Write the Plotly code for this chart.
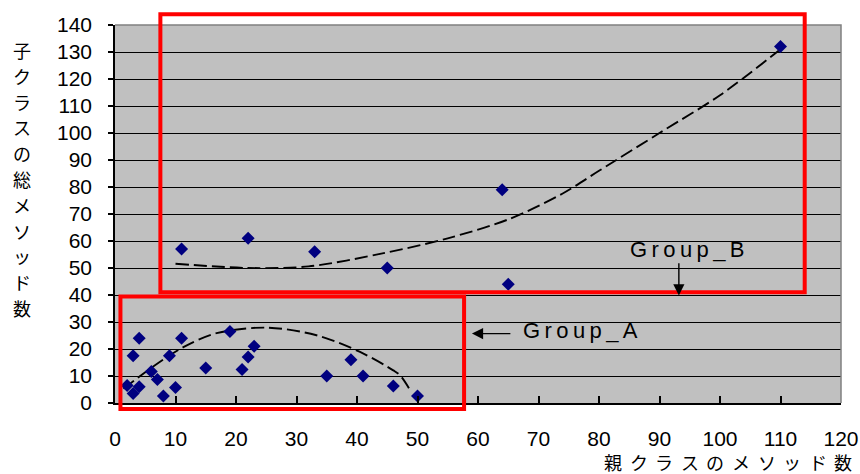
import plotly.graph_objects as go

# Parent-class method count (x) vs. total child-class method count (y)
group_a_x = [2, 3, 4, 3, 4, 6, 7, 8, 9, 10, 11, 15, 19, 21, 22, 23, 35, 39, 41, 46, 50]
group_a_y = [6.5, 3.5, 6, 17.5, 24, 11.7, 8.7, 2.6, 17.5, 5.7, 24, 13, 26.5, 12.4, 17, 21, 10, 16, 10, 6.3, 2.6]
group_b_x = [11, 22, 33, 45, 64, 65, 110]
group_b_y = [57, 61, 56, 50, 79, 44, 132]

# dashed trend curves through each group
curve_a_x = [1.4, 5.8, 11.3, 16.8, 25.1, 33.3, 40.5, 46, 47.1, 48.8]
curve_a_y = [5.3, 12.7, 20.7, 25.9, 27.9, 25.1, 18.9, 12.1, 10.3, 4.7]
curve_b_x = [10, 22, 32, 44, 55, 65, 74, 80, 90, 100, 110]
curve_b_y = [51.6, 50, 50.6, 55.3, 61, 68, 77.6, 86, 100, 114, 131]

x_ticks = list(range(0, 121, 10))
y_ticks = list(range(0, 141, 10))

x_title = "親クラスのメソッド数"
y_title = "子クラスの総メソッド数"

X_MAX, Y_MAX = 120, 140
W, H = 860, 474
ML, MR, MT, MB = 115, 19, 25, 71
PW, PH = W - ML - MR, H - MT - MB

LATIN = "Liberation Sans, Arial, sans-serif"
CJK = "Noto Sans CJK JP, sans-serif"


def px_x(px):
    return (px - ML) / PW


def px_y(py):
    return (H - MB - py) / PH


fig = go.Figure()

dash = "13px,5px"
fig.add_trace(go.Scatter(x=curve_a_x, y=curve_a_y, mode="lines", line_shape="spline",
                         line=dict(color="black", width=1.9, dash=dash, smoothing=0.9),
                         hoverinfo="skip", showlegend=False))
fig.add_trace(go.Scatter(x=curve_b_x, y=curve_b_y, mode="lines", line_shape="spline",
                         line=dict(color="black", width=1.9, dash=dash, smoothing=0.9),
                         hoverinfo="skip", showlegend=False))

marker = dict(symbol="diamond", size=10, color="#000080", line=dict(width=0))
fig.add_trace(go.Scatter(x=group_a_x, y=group_a_y, mode="markers", marker=marker,
                         name="Group_A", showlegend=False))
fig.add_trace(go.Scatter(x=group_b_x, y=group_b_y, mode="markers", marker=marker,
                         name="Group_B", showlegend=False))

shapes = []
# plot-area frame (top and right edges)
shapes.append(dict(type="path", xref="paper", yref="paper",
                   path="M 0,1 L 1,1 L 1,0", line=dict(color="#808080", width=1.5)))


def rect_shape(x0, x1, y0, y1):
    return dict(type="rect", xref="paper", yref="paper",
                x0=x0 / X_MAX, x1=x1 / X_MAX, y0=y0 / Y_MAX, y1=y1 / Y_MAX,
                line=dict(color="#FF0000", width=4), fillcolor="rgba(0,0,0,0)")


shapes.append(rect_shape(7.5, 114.0, 41.0, 144.0))   # Group_B region
shapes.append(rect_shape(0.9, 57.7, -2.2, 39.4))     # Group_A region

annotations = []
thin = "\u2009"
annotations.append(dict(x=94.5, y=57.0, xref="x", yref="y", text=thin.join("Group_B"),
                        showarrow=False, xanchor="center", yanchor="middle",
                        font=dict(family=LATIN, size=22, color="black")))
annotations.append(dict(x=77.0, y=27.0, xref="x", yref="y", text=thin.join("Group_A"),
                        showarrow=False, xanchor="center", yanchor="middle",
                        font=dict(family=LATIN, size=22, color="black")))
# arrows pointing at the two regions
annotations.append(dict(x=93.2, y=39.8, ax=93.2, ay=52.3, xref="x", yref="y",
                        axref="x", ayref="y", text="", showarrow=True,
                        arrowhead=2, arrowsize=1.6, arrowwidth=1.4, arrowcolor="black"))
annotations.append(dict(x=59.0, y=25.7, ax=65.6, ay=25.7, xref="x", yref="y",
                        axref="x", ayref="y", text="", showarrow=True,
                        arrowhead=2, arrowsize=1.6, arrowwidth=1.4, arrowcolor="black"))

# vertical y-axis title, one character per line
for i, ch in enumerate(y_title):
    annotations.append(dict(x=px_x(22), y=px_y(50 + i * 25.8), xref="paper", yref="paper",
                            text=ch, showarrow=False, xanchor="center", yanchor="middle",
                            font=dict(family=CJK, size=18, color="black")))

# spaced-out x-axis title
for i, ch in enumerate(x_title):
    annotations.append(dict(x=px_x(613 + i * 25.6), y=px_y(462), xref="paper", yref="paper",
                            text=ch, showarrow=False, xanchor="center", yanchor="middle",
                            font=dict(family=CJK, size=18, color="black")))

fig.update_layout(
    width=W, height=H,
    margin=dict(l=ML, r=MR, t=MT, b=MB, pad=0, autoexpand=False),
    paper_bgcolor="white",
    plot_bgcolor="#C0C0C0",
    showlegend=False,
    shapes=shapes,
    annotations=annotations,
    font=dict(family=LATIN, size=21, color="black"),
)

fig.update_xaxes(
    range=[0, X_MAX], tickvals=x_ticks, ticktext=[str(v) for v in x_ticks],
    automargin=False,
    showgrid=False, zeroline=False,
    showline=True, linecolor="black", linewidth=1.5,
    ticks="inside", ticklen=7, tickwidth=1.5, tickcolor="black",
    ticklabelstandoff=16,
    tickfont=dict(family=LATIN, size=21, color="black"),
)
fig.update_yaxes(
    range=[0, Y_MAX], tickvals=y_ticks, ticktext=[str(v) for v in y_ticks],
    automargin=False,
    showgrid=True, gridcolor="black", gridwidth=1, zeroline=False,
    showline=True, linecolor="black", linewidth=1.5,
    ticks="outside", ticklen=5, tickwidth=1.5, tickcolor="black",
    ticklabelstandoff=12,
    tickfont=dict(family=LATIN, size=21, color="black"),
)

fig.write_html("out.html")
